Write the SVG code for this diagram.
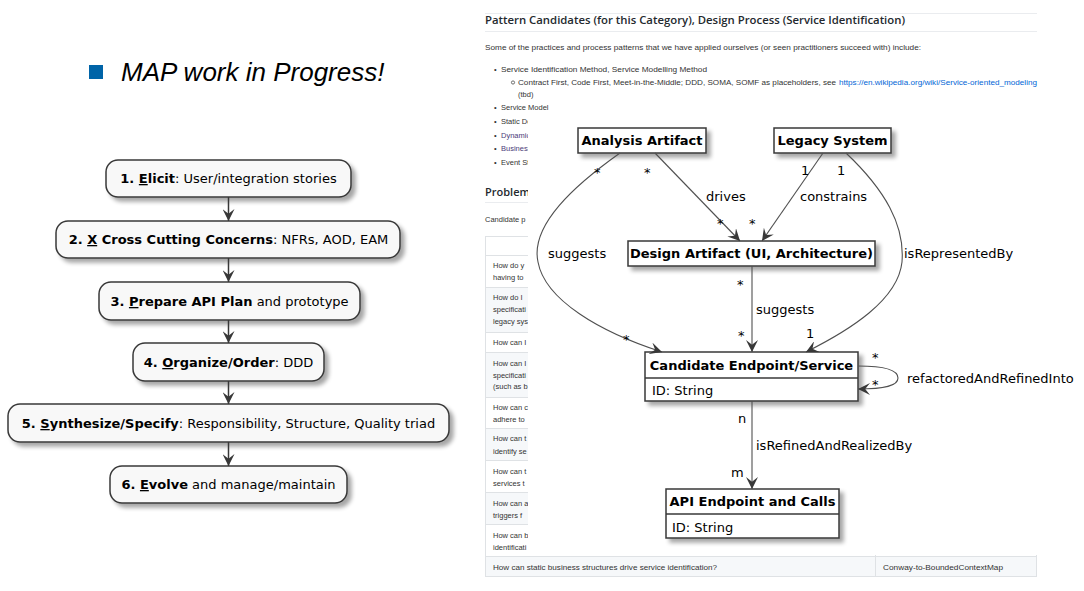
<svg xmlns="http://www.w3.org/2000/svg" width="1084" height="591" viewBox="0 0 1084 591">
<defs>
<style>
.bg{fill:#fff}
.act{fill:#f8f8f8;stroke:#383838;stroke-width:1.5}
.cls{fill:#fff;stroke:#383838;stroke-width:1.5}
.at{font-family:"DejaVu Sans",sans-serif;font-size:13px;fill:#000;text-anchor:middle}
.ct{font-family:"DejaVu Sans",sans-serif;font-size:13px;font-weight:bold;fill:#000;text-anchor:middle}
.lt{font-family:"DejaVu Sans",sans-serif;font-size:13px;fill:#000}
.b{font-weight:bold}
.u{text-decoration:underline}
.aline{stroke:#383838;stroke-width:1.5;fill:none}
.cline{stroke:#505050;stroke-width:1.1;fill:none}
.web{font-family:"Liberation Sans",Arial,sans-serif;font-size:7.5px;fill:#333}
.wh{font-family:"Open Sans","Liberation Sans",sans-serif;font-size:11px;font-weight:600;fill:#24292e}
.link{fill:#0366d6}
.vis{fill:#4b3b7a}
.tb{fill:none;stroke:#dfe2e5;stroke-width:1}
.grey{fill:#f6f8fa}
</style>
<filter id="sh" x="-10%" y="-20%" width="130%" height="160%">
<feGaussianBlur in="SourceAlpha" stdDeviation="2"/>
<feOffset dx="4" dy="4"/>
<feComponentTransfer><feFuncA type="linear" slope="0.35"/></feComponentTransfer>
<feMerge><feMergeNode/><feMergeNode in="SourceGraphic"/></feMerge>
</filter>
<marker id="ah" viewBox="0 0 10 10" refX="10" refY="5" markerWidth="12" markerHeight="12" markerUnits="userSpaceOnUse" orient="auto">
<path d="M0,0 L10,5 L0,10 L4,5 Z" fill="#383838"/>
</marker>
<marker id="ch" viewBox="0 0 10 10" refX="10" refY="5" markerWidth="12" markerHeight="12" markerUnits="userSpaceOnUse" orient="auto">
<path d="M0,0 L10,5 L0,10 L4,5 Z" fill="#383838"/>
</marker>
</defs>
<rect class="bg" x="0" y="0" width="1084" height="591"/>

<g id="title">
<rect x="89" y="65" width="14" height="14" fill="#0064a8"/>
<text x="121" y="81" font-family="Liberation Sans,Arial,sans-serif" font-size="26" font-style="italic" fill="#000">MAP work in Progress!</text>
</g>

<g id="step1">
<rect class="act" x="106" y="160" width="245" height="37" rx="12" filter="url(#sh)"/>
<text class="at" x="228.5" y="183"><tspan class="b">1. <tspan class="u">E</tspan>licit</tspan>: User/integration stories</text>
</g>
<g id="step2">
<rect class="act" x="56" y="221" width="344" height="37" rx="12" filter="url(#sh)"/>
<text class="at" x="228.5" y="244"><tspan class="b">2. <tspan class="u">X</tspan> Cross Cutting Concerns</tspan>: NFRs, AOD, EAM</text>
</g>
<g id="step3">
<rect class="act" x="99" y="282" width="261" height="38" rx="12" filter="url(#sh)"/>
<text class="at" x="229.5" y="306"><tspan class="b">3. <tspan class="u">P</tspan>repare API Plan</tspan> and prototype</text>
</g>
<g id="step4">
<rect class="act" x="133" y="343" width="191" height="38" rx="12" filter="url(#sh)"/>
<text class="at" x="228.5" y="367"><tspan class="b">4. <tspan class="u">O</tspan>rganize/Order</tspan>: DDD</text>
</g>
<g id="step5">
<rect class="act" x="8" y="404" width="441" height="38" rx="12" filter="url(#sh)"/>
<text class="at" x="228.5" y="428"><tspan class="b">5. <tspan class="u">S</tspan>ynthesize/Specify</tspan>: Responsibility, Structure, Quality triad</text>
</g>
<g id="step6">
<rect class="act" x="110" y="466" width="237" height="37" rx="12" filter="url(#sh)"/>
<text class="at" x="228.5" y="489"><tspan class="b">6. <tspan class="u">E</tspan>volve</tspan> and manage/maintain</text>
</g>
<g id="flow-connectors">
<line class="aline" x1="228.5" y1="197" x2="228.5" y2="221" marker-end="url(#ah)"/>
<line class="aline" x1="228.5" y1="258" x2="228.5" y2="282" marker-end="url(#ah)"/>
<line class="aline" x1="228.5" y1="320" x2="228.5" y2="343" marker-end="url(#ah)"/>
<line class="aline" x1="228.5" y1="381" x2="228.5" y2="404" marker-end="url(#ah)"/>
<line class="aline" x1="228.5" y1="442" x2="228.5" y2="466" marker-end="url(#ah)"/>
</g>

<g id="webpage">
<line x1="485" y1="13.5" x2="1037" y2="13.5" stroke="#eaecef"/>
<text class="wh" x="485" y="24" textLength="420" lengthAdjust="spacingAndGlyphs">Pattern Candidates (for this Category), Design Process (Service Identification)</text>
<line x1="485" y1="31.5" x2="1037" y2="31.5" stroke="#eaecef"/>
<text class="web" x="485" y="50" textLength="436" lengthAdjust="spacingAndGlyphs">Some of the practices and process patterns that we have applied ourselves (or seen practitioners succeed with) include:</text>
<text class="web" x="494" y="72">•</text>
<text class="web" x="501" y="72" textLength="206" lengthAdjust="spacingAndGlyphs">Service Identification Method, Service Modelling Method</text>
<circle cx="513" cy="82.5" r="1.6" fill="none" stroke="#333" stroke-width="0.7"/>
<text class="web" x="518" y="85" textLength="318" lengthAdjust="spacingAndGlyphs">Contract First, Code First, Meet-in-the-Middle; DDD, SOMA, SOMF as placeholders, see</text>
<text class="web link" x="839" y="85" textLength="198" lengthAdjust="spacingAndGlyphs">https://en.wikipedia.org/wiki/Service-oriented_modeling</text>
<text class="web" x="518" y="97">(tbd)</text>
<text class="web" x="494" y="110">•</text>
<text class="web" x="501" y="110">Service Model</text>
<text class="web" x="494" y="124">•</text>
<text class="web" x="501" y="124">Static Do</text>
<text class="web" x="494" y="138">•</text>
<text class="web vis" x="501" y="138">Dynamic</text>
<text class="web" x="494" y="151">•</text>
<text class="web vis" x="501" y="151">Business</text>
<text class="web" x="494" y="165">•</text>
<text class="web" x="501" y="165">Event St</text>
<text class="wh" x="485" y="196">Problem</text>
<line x1="485" y1="202.5" x2="1037" y2="202.5" stroke="#eaecef"/>
<text class="web" x="485" y="222">Candidate p</text>
<rect class="grey" x="485" y="287" width="552" height="45"/>
<rect class="grey" x="485" y="352" width="552" height="45"/>
<rect class="grey" x="485" y="428" width="552" height="32"/>
<rect class="grey" x="485" y="492" width="552" height="32"/>
<rect class="grey" x="485" y="556" width="552" height="21"/>
<rect class="tb" x="485.5" y="236.5" width="551" height="340"/>
<g stroke="#dfe2e5">
<line x1="485" y1="255.5" x2="1037" y2="255.5"/>
<line x1="485" y1="287.5" x2="1037" y2="287.5"/>
<line x1="485" y1="332.5" x2="1037" y2="332.5"/>
<line x1="485" y1="352.5" x2="1037" y2="352.5"/>
<line x1="485" y1="397.5" x2="1037" y2="397.5"/>
<line x1="485" y1="428.5" x2="1037" y2="428.5"/>
<line x1="485" y1="460.5" x2="1037" y2="460.5"/>
<line x1="485" y1="492.5" x2="1037" y2="492.5"/>
<line x1="485" y1="524.5" x2="1037" y2="524.5"/>
<line x1="485" y1="556.5" x2="1037" y2="556.5"/>
<line x1="875.5" y1="236" x2="875.5" y2="577"/>
</g>
<text class="web" x="493" y="268">How do y</text>
<text class="web" x="493" y="280">having to</text>
<text class="web" x="493" y="300">How do I</text>
<text class="web" x="493" y="312">specificati</text>
<text class="web" x="493" y="324">legacy sys</text>
<text class="web" x="493" y="345">How can I</text>
<text class="web" x="493" y="366">How can I</text>
<text class="web" x="493" y="378">specificati</text>
<text class="web" x="493" y="389">(such as b</text>
<text class="web" x="493" y="410">How can c</text>
<text class="web" x="493" y="422">adhere to</text>
<text class="web" x="493" y="441">How can t</text>
<text class="web" x="493" y="454">identify se</text>
<text class="web" x="493" y="474">How can t</text>
<text class="web" x="493" y="486">services t</text>
<text class="web" x="493" y="506">How can a</text>
<text class="web" x="493" y="518">triggers f</text>
<text class="web" x="493" y="538">How can b</text>
<text class="web" x="493" y="550">identificati</text>
<text class="web" x="493" y="570" textLength="224" lengthAdjust="spacingAndGlyphs">How can static business structures drive service identification?</text>
<text class="web" x="883" y="570" textLength="120" lengthAdjust="spacingAndGlyphs">Conway-to-BoundedContextMap</text>
</g>

<rect x="528" y="113" width="550" height="442" fill="#fff"/>

<g id="analysis-artifact">
<rect class="cls" x="578" y="128" width="128" height="25" filter="url(#sh)"/>
<text class="ct" x="642" y="145">Analysis Artifact</text>
</g>
<g id="legacy-system">
<rect class="cls" x="774" y="128" width="117" height="25" filter="url(#sh)"/>
<text class="ct" x="832.5" y="145">Legacy System</text>
</g>
<g id="design-artifact">
<rect class="cls" x="628" y="241" width="247" height="25" filter="url(#sh)"/>
<text class="ct" x="751.5" y="258">Design Artifact (UI, Architecture)</text>
</g>
<g id="candidate-endpoint">
<rect class="cls" x="645" y="352" width="213" height="49" filter="url(#sh)"/>
<line x1="645" y1="378" x2="858" y2="378" stroke="#383838" stroke-width="1.5"/>
<text class="ct" x="751.5" y="370">Candidate Endpoint/Service</text>
<text class="lt" x="652" y="395">ID: String</text>
</g>
<g id="api-endpoint">
<rect class="cls" x="666" y="489" width="173" height="49" filter="url(#sh)"/>
<line x1="666" y1="514" x2="839" y2="514" stroke="#383838" stroke-width="1.5"/>
<text class="ct" x="752.5" y="506">API Endpoint and Calls</text>
<text class="lt" x="672" y="532">ID: String</text>
</g>

<g id="connectors">
<path class="cline" d="M655,153 L740,241" marker-end="url(#ch)"/>
<path class="cline" d="M823,153 L762,241" marker-end="url(#ch)"/>
<path class="cline" d="M620,153 C575,185 530,225 538,262 C545,300 600,332 662,352" marker-end="url(#ch)"/>
<path class="cline" d="M752,266 L752,352" marker-end="url(#ch)"/>
<path class="cline" d="M846,153 C885,190 905,225 902,262 C898,300 850,330 806,352" marker-end="url(#ch)"/>
<path class="cline" d="M858,366 C885,366 898,370 898,378 C898,386 885,389 858,389" marker-end="url(#ch)"/>
<path class="cline" d="M752,401 L752,489" marker-end="url(#ch)"/>
<text class="lt" x="706" y="201">drives</text>
<text class="lt" x="800" y="201">constrains</text>
<text class="lt" x="548" y="258">suggests</text>
<text class="lt" x="904" y="258">isRepresentedBy</text>
<text class="lt" x="756" y="314">suggests</text>
<text class="lt" x="907" y="383">refactoredAndRefinedInto</text>
<text class="lt" x="756" y="450">isRefinedAndRealizedBy</text>
<text class="lt" x="594" y="177">*</text>
<text class="lt" x="644" y="177">*</text>
<text class="lt" x="717" y="228">*</text>
<text class="lt" x="749" y="228">*</text>
<text class="lt" x="801" y="175">1</text>
<text class="lt" x="837" y="175">1</text>
<text class="lt" x="737" y="289">*</text>
<text class="lt" x="738" y="340">*</text>
<text class="lt" x="806" y="338">1</text>
<text class="lt" x="623" y="344">*</text>
<text class="lt" x="872" y="362">*</text>
<text class="lt" x="872" y="389">*</text>
<text class="lt" x="738" y="423">n</text>
<text class="lt" x="731" y="477">m</text>
</g>
</svg>
